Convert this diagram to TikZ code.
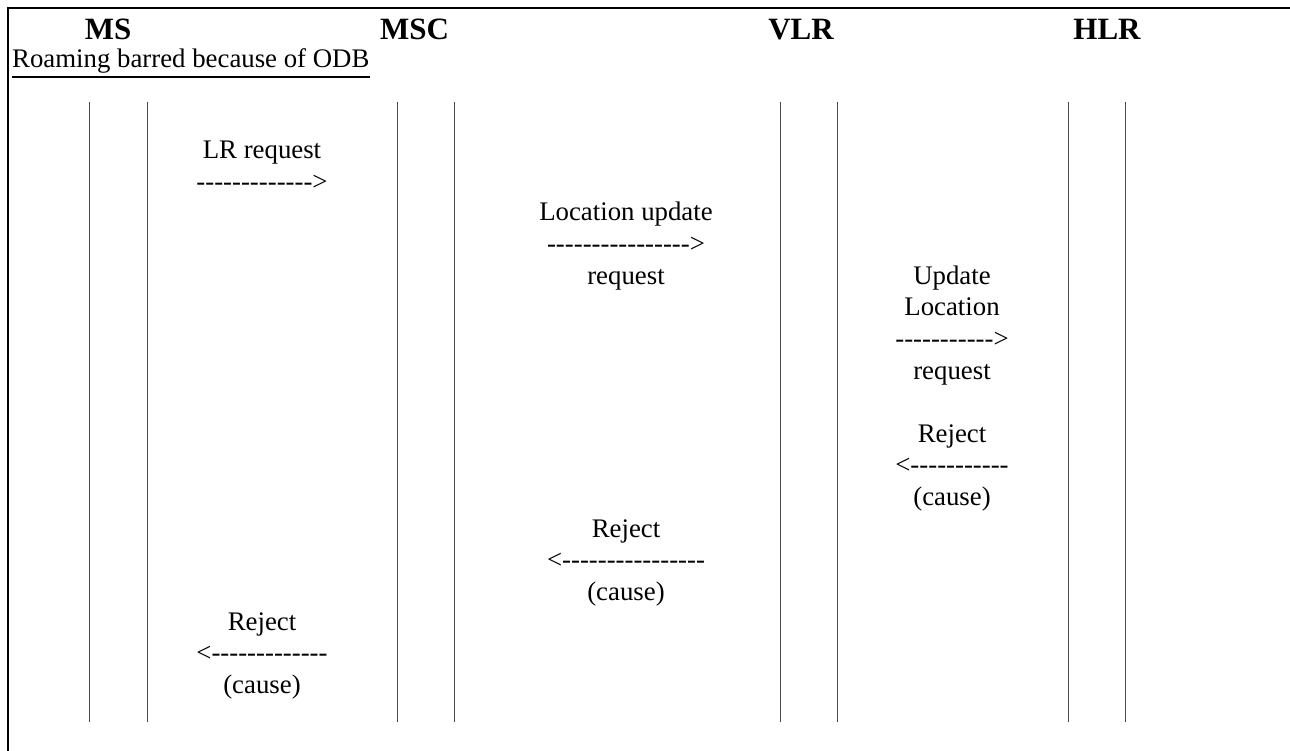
\documentclass[tikz,border=0pt]{standalone}
\usepackage{fontspec}
\setmainfont{Liberation Serif}
\newcommand\hy[1]{\foreach\k in {1,...,#1}{\mbox{-}}}
\begin{document}
\begin{tikzpicture}[x=1pt,y=-1pt,
  body/.style={font=\fontsize{26.8}{31.5}\selectfont, inner sep=0pt, anchor=base},
  head/.style={font=\fontsize{31}{36}\selectfont\bfseries, inner sep=0pt, anchor=base},
  life/.style={draw=black!70, line width=1pt},
  frame/.style={line width=2pt}]
\useasboundingbox (0,0) rectangle (1290,751);
\draw[frame] (8,751) -- (8,8) -- (1290,8);
% headers
\node[head] (hms)  at (108,40) {MS};
\node[head] (hmsc) at (414.5,40) {MSC};
\node[head] (hvlr) at (801,40) {VLR};
\node[head] (hhlr) at (1107,40) {HLR};
\node[body, anchor=base west] (title) at (12,68) {Roaming barred because of ODB};
\draw[line width=1.2pt] ([yshift=-9pt]title.base west) -- ([yshift=-9pt]title.base east);
% lifelines
\foreach \n/\x in {a/89,b/147,c/397,d/454,e/780,f/837,g/1068,h/1125}{
  \coordinate (\n top) at (\x,102);
  \coordinate (\n bot) at (\x,722);
  \draw[life] (\n top) -- (\n bot);
}
% LR request
\node[body] (m1a) at (262,159) {LR request};
\node[body] (m1b) at (262,190.5) {\hy{13}>};
% Location update request
\node[body] (m2a) at (626,221) {Location update};
\node[body] (m2b) at (626,252.5) {\hy{16}>};
\node[body] (m2c) at (626,284) {request};
% Update Location request
\node[body] (m3a) at (952,284.5) {Update};
\node[body] (m3b) at (952,316) {Location};
\node[body] (m3c) at (952,347.5) {\hy{11}>};
\node[body] (m3d) at (952,379) {request};
% Reject HLR -> VLR
\node[body] (m4a) at (952,442) {Reject};
\node[body] (m4b) at (952,473.5) {<\hy{11}};
\node[body] (m4c) at (952,505) {(cause)};
% Reject VLR -> MSC
\node[body] (m5a) at (626,537) {Reject};
\node[body] (m5b) at (626,568.5) {<\hy{16}};
\node[body] (m5c) at (626,600) {(cause)};
% Reject MSC -> MS
\node[body] (m6a) at (262,630) {Reject};
\node[body] (m6b) at (262,661.5) {<\hy{13}};
\node[body] (m6c) at (262,693) {(cause)};
\end{tikzpicture}
\end{document}
